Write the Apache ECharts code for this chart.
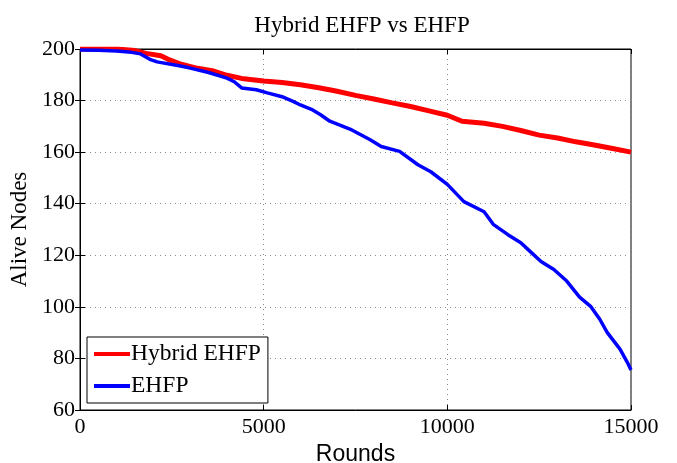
<!DOCTYPE html>
<html>
<head>
<meta charset="utf-8">
<script src="https://cdn.jsdelivr.net/npm/echarts@6/dist/echarts.min.js"></script>
<style>
  html, body { margin: 0; padding: 0; background: #fff; }
  #chart { width: 677px; height: 463px; }
</style>
</head>
<body>
<div id="chart"></div>
<script>
// Alive nodes per round for the two clustering protocols
const hybridRounds = [0, 500, 1000, 1500, 1800, 2200, 2400, 2700, 3200, 3600, 4000, 4400, 5000, 5500, 6000, 6500, 7000, 7500, 8000, 8500, 9000, 9500, 10000, 10400, 11000, 11500, 12000, 12500, 13000, 13500, 14000, 14500, 15000];
const hybridAlive  = [200, 200, 200, 199.4, 198.3, 197.4, 196, 194.3, 192.5, 191.6, 189.8, 188.6, 187.6, 187, 186.1, 185, 183.6, 182, 180.6, 179.1, 177.7, 176, 174.3, 172, 171.2, 170, 168.4, 166.6, 165.5, 164, 162.8, 161.4, 160];

const ehfpRounds = [0, 500, 1000, 1400, 1650, 1900, 2100, 2700, 3000, 3500, 4000, 4200, 4400, 4800, 5100, 5500, 5800, 6000, 6300, 6550, 6800, 7400, 7900, 8200, 8700, 9200, 9550, 10000, 10450, 11000, 11250, 11650, 12000, 12200, 12550, 12900, 13250, 13600, 13900, 14150, 14350, 14700, 14900, 15000];
const ehfpAlive  = [199.6, 199.5, 199.2, 198.7, 198.1, 196, 195, 193.5, 192.6, 190.9, 188.7, 187.3, 184.9, 184.2, 183, 181.5, 179.7, 178.3, 176.6, 174.5, 172, 168.6, 164.8, 162.2, 160.3, 155.1, 152.4, 147.5, 140.8, 136.9, 132, 128, 124.9, 122.2, 117.6, 114.5, 110, 103.8, 100.2, 95.2, 90.1, 83.6, 78.5, 75.5];

const seriesNames = ['Hybrid EHFP', 'EHFP'];
const titleText = 'Hybrid EHFP vs EHFP';
const xName = 'Rounds';
const yName = 'Alive Nodes';

const serif = '"Liberation Serif", "Times New Roman", serif';
const sans = '"Liberation Sans", Arial, sans-serif';

const pairs = (xs, ys) => xs.map((x, i) => [x, ys[i]]);
const plain = v => String(v);

const gridLine = { show: true, lineStyle: { color: '#888', type: [1, 4], width: 1 } };
const frameTick = { show: true, inside: true, length: 5, lineStyle: { color: '#000' } };

const chart = echarts.init(document.getElementById('chart'), null, { renderer: 'canvas' });
chart.setOption({
  animation: false,
  backgroundColor: '#fff',
  title: {
    text: titleText,
    left: 357, top: 9, textAlign: 'center',
    textStyle: { fontFamily: serif, fontWeight: 'normal', fontSize: 23, color: '#000' }
  },
  grid: {
    left: 80, right: 46, top: 49, bottom: 53,
    outerBoundsMode: 'none', containLabel: false,
    show: true, borderColor: '#000', borderWidth: 1, backgroundColor: '#fff'
  },
  legend: {
    orient: 'vertical', left: 87, top: 337,
    data: seriesNames,
    icon: 'rect', itemWidth: 36, itemHeight: 4, itemGap: 8,
    backgroundColor: '#fff', borderColor: '#000', borderWidth: 1, borderRadius: 0,
    padding: [5, 7, 5, 7],
    textStyle: { fontFamily: serif, fontSize: 23.5, color: '#000', padding: [0, 0, 0, -4] }
  },
  xAxis: [{
    type: 'value', min: 0, max: 15000, interval: 5000,
    name: xName, nameLocation: 'middle', nameGap: 30,
    nameTextStyle: { fontFamily: sans, fontSize: 23, color: '#000' },
    axisLine: { show: true, lineStyle: { color: '#000' } },
    axisTick: frameTick,
    axisLabel: { fontFamily: serif, fontSize: 22, color: '#000', margin: 6, formatter: plain },
    splitLine: gridLine
  }, {
    type: 'value', min: 0, max: 15000, interval: 5000, position: 'top',
    axisLine: { show: true, lineStyle: { color: '#000' } },
    axisTick: frameTick,
    axisLabel: { show: false }, splitLine: { show: false }
  }],
  yAxis: [{
    type: 'value', min: 60, max: 200, interval: 20,
    name: yName, nameLocation: 'middle', nameGap: 36,
    nameTextStyle: { fontFamily: serif, fontSize: 23, color: '#000' },
    axisLine: { show: true, lineStyle: { color: '#000' } },
    axisTick: frameTick,
    axisLabel: { fontFamily: serif, fontSize: 22, color: '#000', margin: 5, formatter: plain },
    splitLine: gridLine
  }, {
    type: 'value', min: 60, max: 200, interval: 20, position: 'right',
    axisLine: { show: true, lineStyle: { color: '#000' } },
    axisTick: frameTick,
    axisLabel: { show: false }, splitLine: { show: false }
  }],
  series: [{
    name: seriesNames[0], type: 'line', xAxisIndex: 0, yAxisIndex: 0,
    data: pairs(hybridRounds, hybridAlive),
    showSymbol: false, symbol: 'none',
    itemStyle: { color: '#ff0000' },
    lineStyle: { color: '#ff0000', width: 5 }
  }, {
    name: seriesNames[1], type: 'line', xAxisIndex: 0, yAxisIndex: 0,
    data: pairs(ehfpRounds, ehfpAlive),
    showSymbol: false, symbol: 'none',
    itemStyle: { color: '#0000ff' },
    lineStyle: { color: '#0000ff', width: 3.5 }
  }]
});
</script>
</body>
</html>
